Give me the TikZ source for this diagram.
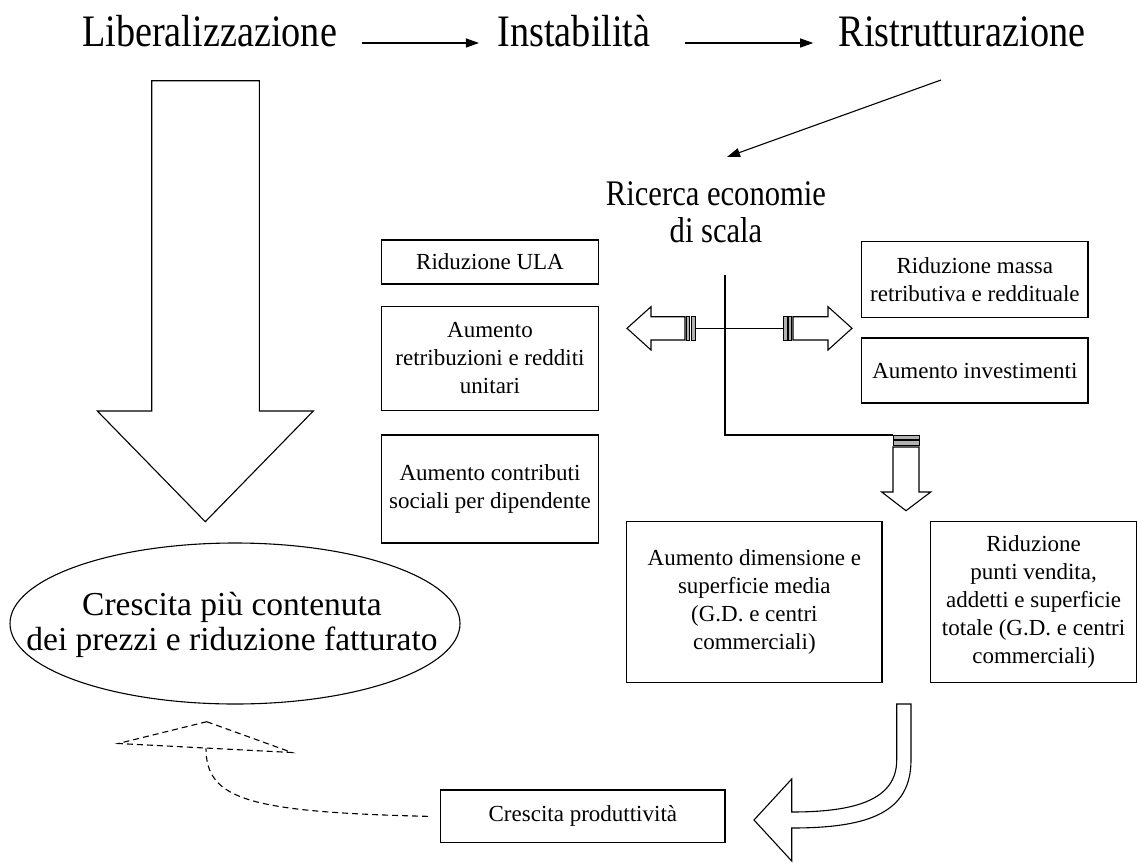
\documentclass[tikz,border=0pt]{standalone}
\usepackage{fontspec}
\setmainfont{Liberation Serif}
\newfontfamily\condfont{Liberation Serif}[FakeStretch=0.85]
\usetikzlibrary{arrows.meta,shapes.geometric}
\begin{document}
\begin{tikzpicture}[x=1pt,y=-1pt,line width=1.1pt,
  big/.style={font=\condfont\fontsize{45}{50}\selectfont,inner sep=0pt},
  mid/.style={font=\condfont\fontsize{36}{37}\selectfont,inner sep=0pt,align=center},
  box/.style={draw,line width=1.1pt,inner sep=0pt,align=center,font=\fontsize{23}{28}\selectfont},
  arr/.style={-{Triangle[length=13pt,width=9pt]},line width=1.1pt},
  fat/.style={draw,line width=1.1pt,fill=white,line join=miter},
  stripe/.style={draw,line width=0.7pt,fill=gray!60},
  dsh/.style={line width=1.1pt,dash pattern=on 6pt off 4pt}]
\useasboundingbox (0,0) rectangle (1137,862);

% top row
\node[big,anchor=base] (lib) at (209.5,46) {Liberalizzazione};
\node[big,anchor=base] (inst) at (574,46) {Instabilità};
\node[big,anchor=base] (rist) at (962,46) {Ristrutturazione};
\draw[arr,shorten <=25pt,shorten >=18pt] ([yshift=3pt]lib.base east) -- ([yshift=3pt]inst.base west);
\draw[arr,shorten <=34pt,shorten >=25pt] ([yshift=3pt]inst.base east) -- ([yshift=3pt]rist.base west);

% Ricerca
\node[mid,anchor=north] (ric) at (716,181) {Ricerca economie\\di scala};
\draw[arr] ([shift={(-21,34)}]rist.base) -- ([shift={(11,-24)}]ric.north);

% big down arrow
\draw[fat] (151.7,80.7) -- (259.3,80.7) -- (259.3,411) -- (313.3,411) -- (205.3,521.7)
  -- (97.3,411) -- (151.7,411) -- cycle;

% ellipse
\node[draw,ellipse,minimum width=450pt,minimum height=161pt,inner sep=0pt] (ell) at (235,623.5) {};
\node[align=center,inner sep=0pt,font=\fontsize{33.5}{35}\selectfont] (elltext) at ([xshift=-3pt,yshift=-1pt]ell.center)
  {Crescita più contenuta\\dei prezzi e riduzione fatturato};

% left boxes
\node[box,minimum width=216.3pt,minimum height=44pt] (ula) at (490,262) {Riduzione ULA};
\node[box,minimum width=216.3pt,minimum height=103.5pt] (retr) at (490,358.5) {Aumento\\retribuzioni e redditi\\unitari};
\node[box,minimum width=216.3pt,minimum height=108pt] (contr) at (490,489) {Aumento contributi\\sociali per dipendente};

% right boxes
\node[box,minimum width=226.3pt,minimum height=76pt] (massa) at (974.85,279.7) {Riduzione massa\\retributiva e reddituale};
\node[box,minimum width=226.3pt,minimum height=65pt] (invest) at (974.85,370.5) {Aumento investimenti};

% bottom boxes
\node[box,minimum width=255.3pt,minimum height=161pt] (dim) at (754.35,602.2) {Aumento dimensione e\\superficie media\\(G.D. e centri\\commerciali)};
\node[box,minimum width=205.8pt,minimum height=161pt] (punti) at (1033.6,602.2) {Riduzione\\punti vendita,\\addetti e superficie\\totale (G.D. e centri\\commerciali)};
\node[box,minimum width=284.3pt,minimum height=52.7pt] (prod) at (582.85,816.35) {Crescita produttività};

% branching lines
\coordinate (branch) at (725,275);
\coordinate (corner) at (725,435);
\coordinate (dtop) at (893,435);
\coordinate (lstr) at (695,328.3);
\coordinate (rstr) at (783,328.3);
\draw (branch) -- (corner) -- (dtop);
\draw (lstr) -- (rstr);

% left fat arrow
\draw[fat] (685,316.7) -- (651,316.7) -- (651,306.7) -- (627,328.3) -- (651,350) -- (651,340) -- (685,340) -- cycle;
\draw[stripe] (686.5,316.7) rectangle (689.5,340);
\draw[stripe] (691,316.7) rectangle (695,340);
% right fat arrow
\draw[fat] (793,316.7) -- (828,316.7) -- (828,306.7) -- (852,328.3) -- (828,350) -- (828,340) -- (793,340) -- cycle;
\draw[stripe] (783,316.7) rectangle (787,340);
\draw[stripe] (788.5,316.7) rectangle (791.5,340);
% down fat arrow
\draw[stripe] (893,435) rectangle (919,439);
\draw[stripe] (893,440.5) rectangle (919,445.5);
\draw[fat] (893,447) -- (919,447) -- (919,492) -- (930.7,492) -- (906,510.7) -- (881.7,492) -- (893,492) -- cycle;

% U-turn arrow
\draw[fat] (896.7,704) -- (911,704) -- (911,760) .. controls (911,812) and (870,828) .. (791.7,828)
  -- (791.7,861) -- (754,820) -- (791.7,779) -- (791.7,812)
  .. controls (855,812) and (896.7,800) .. (896.7,760) -- cycle;

% dashed feedback
\coordinate (tribase) at (206,748.3);
\draw[dsh] (206.7,721.7) -- (292,752.5) -- (118.3,743.5) -- cycle;
\draw[dsh] ([xshift=-12pt]prod.west) .. controls (250,812) and (206,800) .. (tribase);
\end{tikzpicture}
\end{document}
